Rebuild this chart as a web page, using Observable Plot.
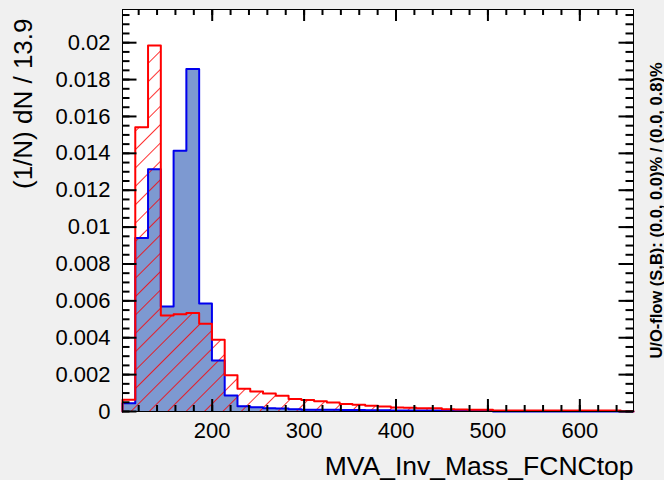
<!DOCTYPE html>
<html>
<head>
<meta charset="utf-8">
<script src="https://cdn.jsdelivr.net/npm/d3@7"></script>
<script src="https://cdn.jsdelivr.net/npm/@observablehq/plot@0.6"></script>
<style>
  html, body { margin: 0; padding: 0; background: #f0f0f0; }
  #chart { width: 664px; height: 480px; }
</style>
</head>
<body>
<div id="chart"></div>
<script>
// Histogram binning (data units)
const xMin = 102.4;
const binWidth = 13.9;

// Signal (blue, filled) normalised bin contents
const signal = [
  0.00045, 0.00941, 0.01314, 0.00570, 0.01414, 0.01858, 0.00585, 0.00277, 0.00087, 0.00028,
  0.00023, 0.00018, 0.00016, 0.00012, 0.00010, 0.00010, 0.00009, 0.00008, 0.00008, 0.00007,
  0.00007, 0.00006, 0.00006, 0.00006, 0.00005, 0.00005, 0.00004, 0.00004, 0.00003, 0.00000,
  0.00000, 0.00000, 0.00000, 0.00000, 0.00000, 0.00000, 0.00000, 0.00000, 0.00000, 0.00000
];

// Background (red, hatched) normalised bin contents
const background = [
  0.00064, 0.01542, 0.01985, 0.00521, 0.00527, 0.00534, 0.00476, 0.00389, 0.00196, 0.00123,
  0.00109, 0.00098, 0.00086, 0.00068, 0.00062, 0.00055, 0.00049, 0.00041, 0.00036, 0.00031,
  0.00027, 0.00022, 0.00020, 0.00018, 0.00017, 0.00012, 0.00011, 0.00010, 0.00010, 0.00006,
  0.00006, 0.00005, 0.00005, 0.00005, 0.00005, 0.00005, 0.00005, 0.00005, 0.00005, 0.00001
];

const xTicks = [200, 300, 400, 500, 600];
const yTicks = [0, 0.002, 0.004, 0.006, 0.008, 0.01, 0.012, 0.014, 0.016, 0.018, 0.02];
const xMinorTicks = d3.range(120, 660, 20);
const yMinorTicks = d3.range(0, 0.0216, 0.0005);

const xTitle = "MVA_Inv_Mass_FCNCtop";
const yTitle = "(1/N) dN / 13.9";
const flowText = "U/O-flow (S,B): (0.0, 0.0)% / (0.0, 0.8)%";

function steps(values) {
  const n = values.length;
  const pts = [{x: xMin, y: 0}];
  values.forEach((v, i) => pts.push({x: xMin + i * binWidth, y: v}));
  pts.push({x: xMin + n * binWidth, y: values[n - 1]});
  pts.push({x: xMin + n * binWidth, y: 0});
  return pts;
}
const sig = steps(signal);
const bkg = steps(background);

const font = "Liberation Sans, Arial, Helvetica, sans-serif";
const W = 664, H = 480, ML = 122, MR = 31, MT = 9, MB = 69;
const IW = W - ML - MR, IH = H - MT - MB;
const TX_MAJ = 12, TX_MIN = 6, TY_MAJ = 14.5, TY_MIN = 7.5;
const TICK_W = 2;

const svg = Plot.plot({
  width: W,
  height: H,
  marginLeft: ML,
  marginRight: MR,
  marginTop: MT,
  marginBottom: MB,
  style: {background: "#f0f0f0", fontFamily: font, color: "black"},
  x: {domain: [xMin, xMin + 40 * binWidth], label: null},
  y: {domain: [0, 0.0218], label: null},
  marks: [
    Plot.frame({fill: "white"}),
    Plot.areaY(sig, {x: "x", y: "y", curve: "step-after", fill: "#7d99d1"}),
    Plot.areaY(bkg, {x: "x", y: "y", curve: "step-after", fill: "url(#hatch)"}),
    Plot.line(sig, {x: "x", y: "y", curve: "step-after", stroke: "#0000ee", strokeWidth: 2}),
    Plot.line(bkg, {x: "x", y: "y", curve: "step-after", stroke: "#ff0000", strokeWidth: 2}),
    Plot.frame({stroke: "black"}),
    // tick labels
    Plot.axisX(xTicks, {anchor: "bottom", tickSize: 0, tickPadding: 11, fontSize: 22, fill: "black", tickFormat: d => String(d), label: null}),
    Plot.axisY(yTicks, {anchor: "left", tickSize: 0, tickPadding: 12, fontSize: 22, fill: "black", tickFormat: d => String(d), label: null}),
    // titles
    Plot.text([xTitle], {text: d => d, frameAnchor: "bottom-right", dy: 55, textAnchor: "end", lineAnchor: "middle", fontSize: 26.5, fill: "black"}),
    Plot.text([yTitle], {text: d => d, frameAnchor: "top-left", dx: -99, dy: 9, rotate: -90, textAnchor: "end", lineAnchor: "middle", fontSize: 26, fill: "black"}),
    Plot.text([flowText], {text: d => d, frameAnchor: "right", dx: 23, dy: 0, rotate: -90, textAnchor: "middle", lineAnchor: "middle", fontSize: 16.5, fontWeight: "bold", fill: "black"}),
    // inward ticks drawn last: bottom, top, left, right
    Plot.tickX(xMinorTicks, {x: d => d, insetTop: IH - TX_MIN, stroke: "#000", strokeWidth: TICK_W}),
    Plot.tickX(xTicks, {x: d => d, insetTop: IH - TX_MAJ, stroke: "#000", strokeWidth: TICK_W}),
    Plot.tickX(xMinorTicks, {x: d => d, insetBottom: IH - TX_MIN, stroke: "#000", strokeWidth: TICK_W}),
    Plot.tickX(xTicks, {x: d => d, insetBottom: IH - TX_MAJ, stroke: "#000", strokeWidth: TICK_W}),
    Plot.tickY(yMinorTicks, {y: d => d, insetRight: IW - TY_MIN, stroke: "#000", strokeWidth: TICK_W}),
    Plot.tickY(yTicks, {y: d => d, insetRight: IW - TY_MAJ, stroke: "#000", strokeWidth: TICK_W}),
    Plot.tickY(yMinorTicks, {y: d => d, insetLeft: IW - TY_MIN, stroke: "#000", strokeWidth: TICK_W}),
    Plot.tickY(yTicks, {y: d => d, insetLeft: IW - TY_MAJ, stroke: "#000", strokeWidth: TICK_W})
  ]
});

// hatch pattern definition
const ns = "http://www.w3.org/2000/svg";
const defs = document.createElementNS(ns, "defs");
const pat = document.createElementNS(ns, "pattern");
pat.setAttribute("id", "hatch");
pat.setAttribute("patternUnits", "userSpaceOnUse");
pat.setAttribute("width", "13");
pat.setAttribute("height", "13");
pat.setAttribute("patternTransform", "rotate(45)");
const ln = document.createElementNS(ns, "line");
ln.setAttribute("x1", "6.5"); ln.setAttribute("y1", "-1");
ln.setAttribute("x2", "6.5"); ln.setAttribute("y2", "14");
ln.setAttribute("stroke", "#ff0000");
ln.setAttribute("stroke-width", "1");
ln.setAttribute("stroke-opacity", "0.8");
pat.appendChild(ln);
defs.appendChild(pat);
svg.appendChild(defs);

document.getElementById("chart").appendChild(svg);
</script>
</body>
</html>
